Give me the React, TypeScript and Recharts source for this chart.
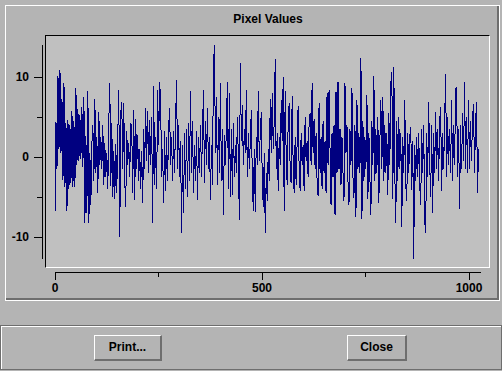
import { LineChart, Line, XAxis, YAxis } from 'recharts';

const TITLE = 'Pixel Values';
const X_TICKS = [0, 250, 500, 750, 1000];
const X_MAJOR = [0, 500, 1000];
const Y_TICKS = [-10, -5, 0, 5, 10];
const Y_MAJOR = [-10, 0, 10];
const X_DOMAIN = [0, 1029];
const Y_DOMAIN = [-12.75, 14];
const SAMPLE_COUNT = 1024;

// one reading per screen column (min/max alternating), left to right
const pixelValues = [
  -7.0, 4.4, -1.5, 10.1, 1.0, 10.9, 0.5, 7.3, -2.9, 9.2, -3.7, 4.2, -6.8, 4.6, -4.0, 4.0, -3.2, 5.8, -3.7,
  4.5, -3.7, 8.6, -1.0, 6.0, -0.5, 5.2, -0.2, 6.3, -1.2, 7.5, -8.3, 2.6, -7.0, 8.2, -8.3, 0.5, -6.0, 1.7,
  4.0, -3.0, 7.3, -2.0, 2.5, -4.5, 5.6, -1.0, 2.5, -1.5, 4.0, -3.5, 1.7, -2.5, 0.5, -4.0, 4.5, 9.3, -3.6,
  4.3, -5.0, 0.8, -5.2, 1.6, -4.5, 2.7, 8.4, -10.0, 5.5, 6.9, -1.5, 6.7, -3.0, -6.2, 3.2, -1.0, 1.8, -2.5, 4.2,
  3.8, -4.5, 5.9, -5.4, 4.8, -1.5, 2.8, -3.0, 1.0, -4.0, 0.8, -5.8, 3.5, -1.5, 6.1, -0.5, 5.8, -2.0, 4.6,
  -1.0, 5.0, -8.3, 8.9, -3.5, 2.5, -4.0, 8.4, 1.5, 9.4, 7.0, -2.5, 1.0, -5.8, 3.3, -4.2, 2.5, -3.0, 3.5, 6.1,
  -1.0, 2.5, -3.0, 3.2, -2.0, 4.5, 9.6, -1.5, 4.0, -2.5, 2.0, -9.5, 1.5, -7.0, 3.0, -4.0, 3.5, -5.0, 4.2,
  -3.0, 8.2, -2.0, 4.5, -4.5, 1.5, -3.0, 3.2, -5.4, 2.5, -2.0, 4.0, -2.5, 3.0, 8.4, -3.2, 4.5, -1.0, 6.1, -1.5,
  2.5, -5.4, 1.5, -3.5, 11.5, 14.0, 0.5, 7.5, -3.5, 5.0, -2.0, 9.2, -3.0, 3.5, -7.2, 2.8, -1.0, 4.0, 9.4,
  -4.0, 8.0, -5.0, 3.5, -4.8, 4.2, -2.5, 1.5, -2.0, 5.0, 0.0, -7.9, 11.7, 2.0, 6.5, -1.0, 3.5, 0.5, 8.4, -2.5,
  3.0, -1.5, 2.0, 5.9, -2.5, -6.8, 1.0, -6.9, 2.5, -1.0, 8.2, -0.5, 3.0, 5.6, -3.0, -6.2, 0.5, -9.5, -2.0,
  -5.5, 1.0, -3.0, 7.3, 0.5, 8.0, 1.0, 4.5, 12.3, -1.5, 3.0, -4.3, 2.5, -1.0, 7.1, 2.0, 10.0, -6.8, 8.2, 0.0,
  -3.5, 4.5, 6.7, -2.0, -3.3, 7.6, -1.0, -4.5, 2.5, -3.5, 2.0, 6.4, -1.5, -4.3, 3.0, -1.0, 1.5, -4.3, 5.0,
  -0.5, 2.0, -2.5, 4.5, 5.5, -1.0, 9.2, 0.5, 4.8, -1.5, 3.0, -3.0, -4.9, 6.7, -2.0, 2.5, -4.0, 4.5, -2.0, 2.0,
  -4.5, 8.0, -1.0, 8.4, 1.0, -6.0, 3.0, -2.5, 4.0, -7.3, 8.1, -2.0, 9.4, -1.5, 3.5, -3.5, 2.5, -2.0, -5.5,
  9.2, 0.5, 4.0, -3.0, -6.0, 3.5, -1.0, 8.6, -2.5, -5.1, 4.0, -7.5, 7.1, -1.5, 3.0, -2.0, 12.4, -7.8, 4.5,
  -3.0, 2.5, -1.5, 7.8, -5.3, 3.0, -2.5, -7.3, 4.5, -1.0, 10.1, -3.0, 3.5, -2.0, 5.0, -5.7, 2.0, 7.1, -1.5,
  7.5, -3.0, 4.0, -2.0, 3.0, -4.8, 5.5, -1.0, 9.2, 10.6, -5.2, 11.3, -2.0, -8.3, 4.5, -3.0, 5.0, -1.5, 3.0,
  -8.8, 2.5, -2.0, 7.1, -3.5, -5.5, 3.0, -2.0, 2.5, 3.8, -4.1, 2.0, -12.7, 1.5, -3.0, 2.5, -2.5, 3.0, -3.5,
  -6.0, 3.5, -2.0, 4.0, -8.1, -9.5, 3.0, -2.5, 6.9, -1.0, -5.0, 4.0, -7.0, 3.0, -2.0, 5.6, -1.5, 3.5, -3.0,
  4.5, 6.2, -4.2, 3.0, -1.5, 4.5, 10.4, -2.5, 5.0, -1.0, 3.5, -2.0, 7.1, -3.0, 4.0, -1.0, 8.4, 8.8, -2.5,
  3.5, -6.5, 4.0, -1.5, 5.5, -0.5, 9.4, -1.5, 5.0, -2.0, 7.1, -1.5, 4.5, -0.5, 5.0, 6.6, -2.0, 4.0, 6.9, -4.5, 1.0,
];

const data = pixelValues.map((v, i) => ({
  x: (i * (SAMPLE_COUNT - 1)) / (pixelValues.length - 1),
  v,
}));

const FONT = '"Liberation Sans", Arial, Helvetica, sans-serif';
const BG = '#b4b4b4';
const PLOT_BG = '#c0c0c0';
const SHADOW = '#6e6e6e';
const W = 502;
const H = 371;

function YTick(props: any) {
  const { x, y, payload } = props;
  const major = Y_MAJOR.includes(payload.value);
  const yy = Math.round(y);
  return (
    <g>
      <line x1={x - (major ? 8 : 5)} x2={x} y1={yy} y2={yy} stroke="#000" shapeRendering="crispEdges" />
      {major && (
        <text x={x - 13} y={yy + 4} textAnchor="end" fontFamily={FONT} fontSize={12} fontWeight="bold" fill="#000">
          {payload.value}
        </text>
      )}
    </g>
  );
}

function XTick(props: any) {
  const { x, y, payload } = props;
  const major = X_MAJOR.includes(payload.value);
  const xx = Math.round(x);
  return (
    <g>
      <line x1={xx} x2={xx} y1={y} y2={y + (major ? 8 : 5)} stroke="#000" shapeRendering="crispEdges" />
      {major && (
        <text x={xx} y={y + 20} textAnchor="middle" fontFamily={FONT} fontSize={12} fontWeight="bold" fill="#000">
          {payload.value}
        </text>
      )}
    </g>
  );
}

function Button({ left, width, label }: { left: number; width: number; label: string }) {
  return (
    <div
      style={{
        position: 'absolute',
        left,
        top: 335,
        width,
        height: 26,
        boxSizing: 'border-box',
        borderTop: '1px solid #fff',
        borderLeft: '1px solid #fff',
        borderRight: `2px solid ${SHADOW}`,
        borderBottom: `2px solid ${SHADOW}`,
        fontWeight: 'bold',
        fontSize: 12,
        lineHeight: '23px',
        textAlign: 'center',
      }}
    >
      {label}
    </div>
  );
}

const layer: React.CSSProperties = { position: 'absolute', left: 0, top: 0 };

export default function App() {
  return (
    <div style={{ position: 'fixed', left: 0, top: 0, width: W, height: H, background: BG, fontFamily: FONT, overflow: 'hidden' }}>
      {/* etched frame round the plot panel */}
      <div style={{ position: 'absolute', left: 5, top: 5, width: 495, height: 296, boxSizing: 'border-box', border: '1px solid #fff' }}>
        <div style={{ width: '100%', height: '100%', boxSizing: 'border-box', borderRight: `2px solid ${SHADOW}`, borderBottom: `2px solid ${SHADOW}` }} />
      </div>
      <div style={{ position: 'absolute', left: 168, top: 12, width: 200, textAlign: 'center', fontWeight: 'bold', fontSize: 12 }}>{TITLE}</div>
      <div
        style={{
          position: 'absolute', left: 45, top: 35, width: 445, height: 233, boxSizing: 'border-box', background: PLOT_BG,
          borderTop: '1px solid #000', borderLeft: '1px solid #000', borderRight: '1px solid #fff', borderBottom: '1px solid #fff',
        }}
      />

      {/* data */}
      <div style={layer}>
        <LineChart width={W} height={H} data={data} margin={{ left: 55, right: 21, top: 45, bottom: 112 }}>
          <XAxis dataKey="x" type="number" domain={X_DOMAIN} hide allowDataOverflow />
          <YAxis type="number" domain={Y_DOMAIN} hide allowDataOverflow />
          <Line type="linear" dataKey="v" stroke="#000080" strokeWidth={1} dot={false} activeDot={false} isAnimationActive={false} shapeRendering="crispEdges" />
        </LineChart>
      </div>

      {/* y axis */}
      <div style={layer}>
        <LineChart width={W} height={H} data={data} margin={{ left: 0, right: 21, top: 45, bottom: 112 }}>
          <XAxis dataKey="x" type="number" domain={X_DOMAIN} hide />
          <YAxis
            type="number"
            domain={Y_DOMAIN}
            ticks={Y_TICKS}
            interval={0}
            width={42}
            tickSize={0}
            tickMargin={0}
            tickLine={false}
            axisLine={{ stroke: '#000', shapeRendering: 'crispEdges' }}
            tick={<YTick />}
            allowDataOverflow
          />
          <Line dataKey="v" stroke="none" dot={false} activeDot={false} isAnimationActive={false} />
        </LineChart>
      </div>

      {/* x axis */}
      <div style={layer}>
        <LineChart width={W} height={H} data={data} margin={{ left: 55, right: 21, top: 45, bottom: 69 }}>
          <XAxis
            dataKey="x"
            type="number"
            domain={X_DOMAIN}
            ticks={X_TICKS}
            interval={0}
            height={30}
            tickSize={0}
            tickMargin={0}
            tickLine={false}
            axisLine={{ stroke: '#000', shapeRendering: 'crispEdges' }}
            tick={<XTick />}
            allowDataOverflow
          />
          <YAxis type="number" domain={Y_DOMAIN} hide />
          <Line dataKey="v" stroke="none" dot={false} activeDot={false} isAnimationActive={false} />
        </LineChart>
      </div>

      {/* button bar */}
      <div style={{ position: 'absolute', left: 0, top: 325, width: W, height: 45, boxSizing: 'border-box', border: `1px solid ${SHADOW}` }}>
        <div style={{ width: '100%', height: '100%', boxSizing: 'border-box', borderTop: '1px solid #fff', borderLeft: '1px solid #fff' }} />
      </div>
      <Button left={94} width={68} label="Print..." />
      <Button left={347} width={60} label="Close" />
    </div>
  );
}
